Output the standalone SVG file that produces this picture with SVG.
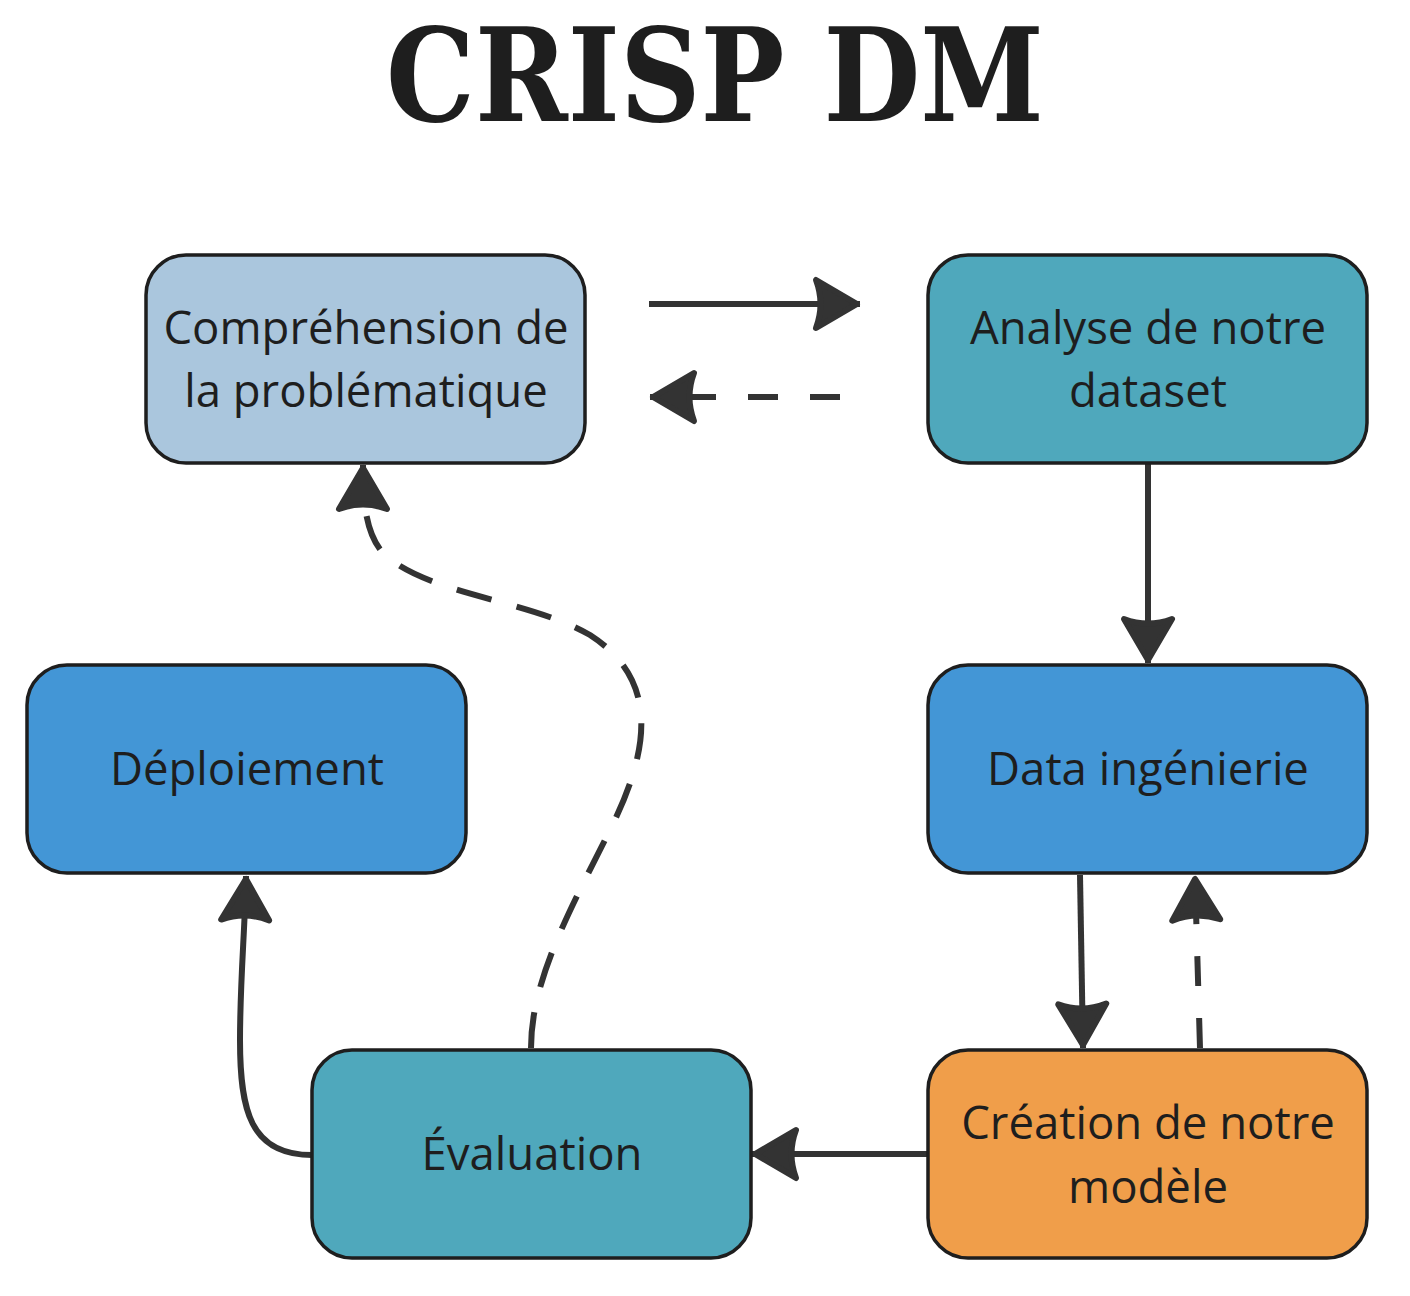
<svg xmlns="http://www.w3.org/2000/svg" width="1410" height="1296" viewBox="0 0 1410 1296">
  <style>
    .node rect { stroke: #1e1e1e; stroke-width: 3.5; }
    .label { font-family: "Open Sans", "Noto Sans", "DejaVu Sans", sans-serif; font-size: 45.5px; fill: #1e1e1e; text-anchor: middle; }
    .title { font-family: "DejaVu Serif", "Liberation Serif", serif; font-weight: bold; font-size: 130px; fill: #1e1e1e; text-anchor: middle; }
    .edge { fill: none; stroke: #333333; stroke-width: 6; }
    .dash { stroke-dasharray: 30 32; }
    .dash2 { stroke-dasharray: 36 26; }
  </style>
  <defs>
    <marker id="head" markerUnits="userSpaceOnUse" viewBox="-60 -40 70 80" markerWidth="70" markerHeight="80" refX="0" refY="0" orient="auto" overflow="visible">
      <path d="M-3,0 L-44,-24 Q-35,0 -44,24 Z" fill="#333333" stroke="#333333" stroke-width="6" stroke-linejoin="round" stroke-dasharray="none"/>
    </marker>
  </defs>
  <rect width="1410" height="1296" fill="#ffffff"/>
  <text class="title" x="715" y="121" textLength="658" lengthAdjust="spacingAndGlyphs">CRISP DM</text>

  <g id="connectors">
    <path class="edge" d="M649,304 L860,304" marker-end="url(#head)"/>
    <path class="edge dash" d="M840,397 L650,397" marker-end="url(#head)"/>
    <path class="edge" d="M1148,463 L1148,663" marker-end="url(#head)"/>
    <path class="edge" d="M1080,875 L1083,1048" marker-end="url(#head)"/>
    <path class="edge dash" d="M1200,1048 L1195,876" marker-end="url(#head)"/>
    <path class="edge" d="M928,1154 L752,1154" marker-end="url(#head)"/>
    <path class="edge" d="M312,1155 C250,1155 240,1110 240,1040 C240,980 245,930 246,876" marker-end="url(#head)"/>
    <path class="edge dash2" d="M531,1048 C531,980 570,910 610,830 C650,750 660,680 590,635 C530,600 430,595 385,555 C365,535 363,500 363,465" marker-end="url(#head)"/>
  </g>

  <g id="node-comprehension" class="node">
    <rect x="146" y="255" width="439" height="208" rx="40" fill="#aac6dd"/>
    <text class="label" x="366" y="344">Compréhension de</text>
    <text class="label" x="366" y="407">la problématique</text>
  </g>
  <g id="node-analyse" class="node">
    <rect x="928" y="255" width="439" height="208" rx="40" fill="#4fa8bc"/>
    <text class="label" x="1148" y="344">Analyse de notre</text>
    <text class="label" x="1148" y="407">dataset</text>
  </g>
  <g id="node-data" class="node">
    <rect x="928" y="665" width="439" height="208" rx="40" fill="#4396d6"/>
    <text class="label" x="1148" y="785">Data ingénierie</text>
  </g>
  <g id="node-deploiement" class="node">
    <rect x="27" y="665" width="439" height="208" rx="40" fill="#4396d6"/>
    <text class="label" x="247" y="785">Déploiement</text>
  </g>
  <g id="node-evaluation" class="node">
    <rect x="312" y="1050" width="439" height="208" rx="40" fill="#4fa8bc"/>
    <text class="label" x="532" y="1170">Évaluation</text>
  </g>
  <g id="node-creation" class="node">
    <rect x="928" y="1050" width="439" height="208" rx="40" fill="#f09e4a"/>
    <text class="label" x="1148" y="1139">Création de notre</text>
    <text class="label" x="1148" y="1203">modèle</text>
  </g>
</svg>
